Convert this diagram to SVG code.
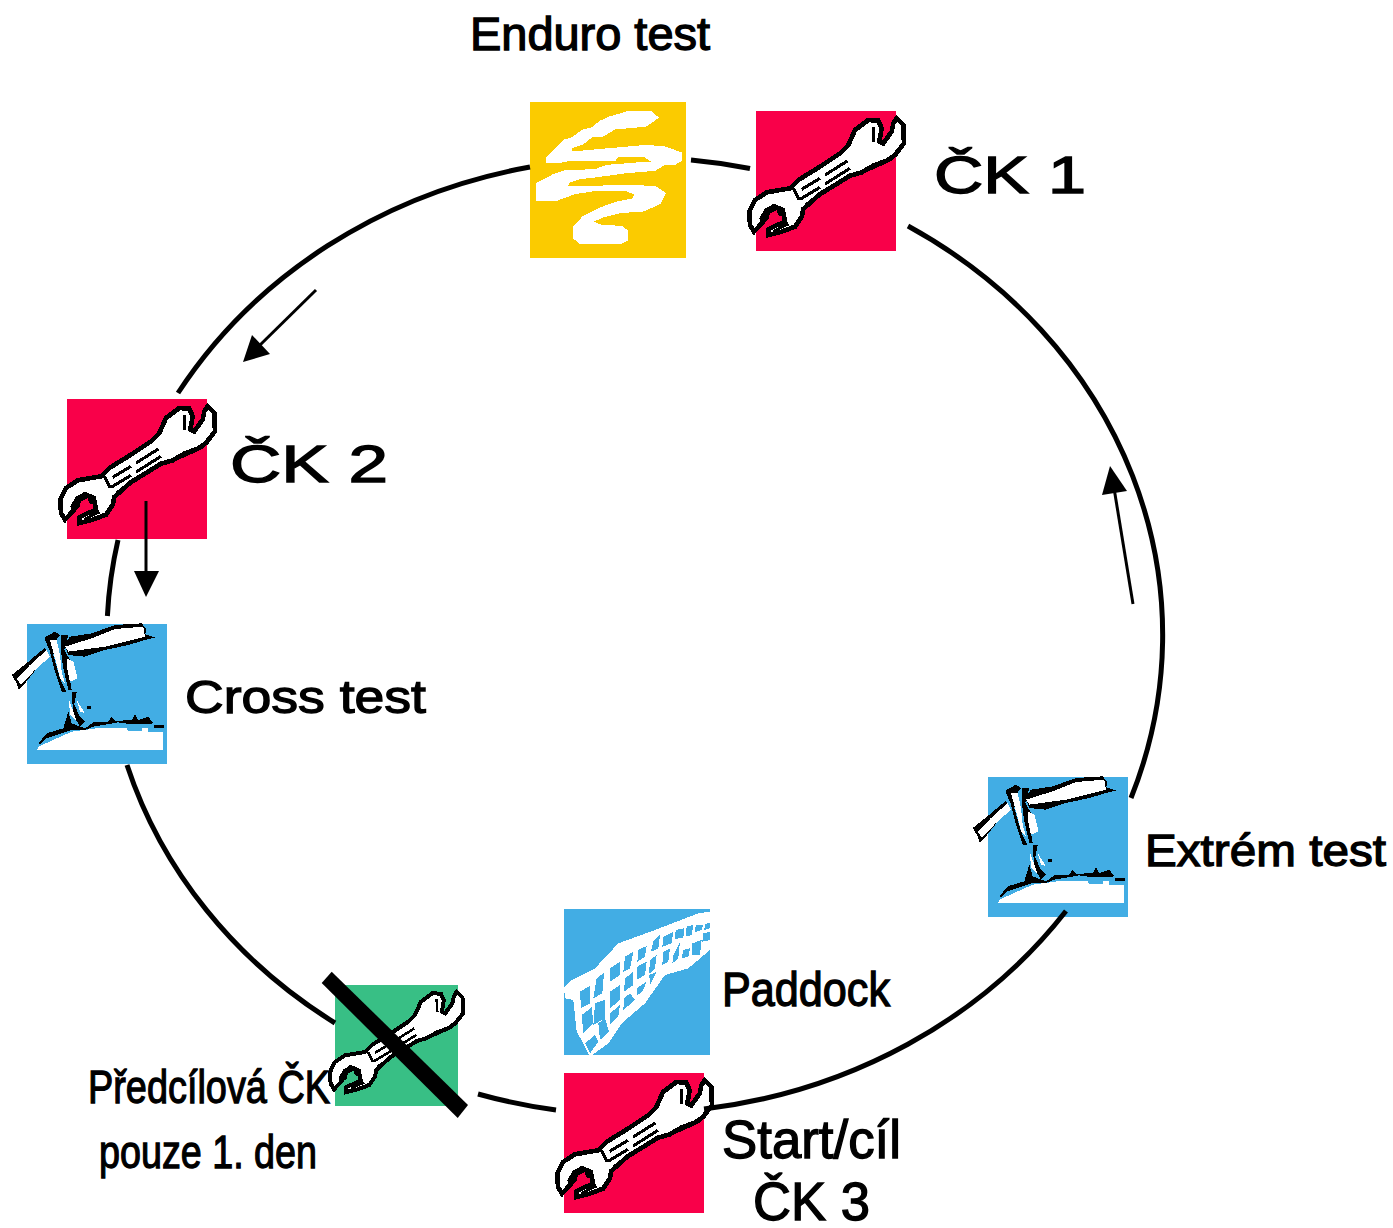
<svg xmlns="http://www.w3.org/2000/svg" width="1393" height="1228" viewBox="0 0 1393 1228">
<style>
text{font-family:"Liberation Sans",Arial,sans-serif;fill:#000;stroke:#000;stroke-width:1.3}
.arc{fill:none;stroke:#000;stroke-width:5}
.arw{fill:none;stroke:#000;stroke-width:3}
.ah{fill:#000}
.px{shape-rendering:crispEdges}
</style>
<defs>
<g id="wrench" class="px">
<path d="M470 55L490 75L492 130L465 165L440 182L400 197L365 217L330 227L290 252L240 282L190 327L185 350L165 380L125 395L85 405L85 388L112 375L135 365L128 330L100 318L78 340L70 365L42 395L30 375L28 335L45 300L80 277L150 265L175 240L240 200L300 160L325 135L345 90L385 60L415 62L425 85L418 125L430 130L455 95L460 70Z" fill="#fff" stroke="#000" stroke-width="14" stroke-linejoin="miter"/>
<path d="M185 268L240 235M255 225L322 183M180 298L240 262M255 252L330 205M195 315L330 228L395 205L455 178M160 265L178 300M400 80L402 125" fill="none" stroke="#000" stroke-width="9"/>
<path d="M58 355L75 325L105 312L135 325L130 352L115 345L110 330L90 340L85 360L65 372ZM150 375L120 388L98 400L100 390L140 368Z" fill="#000"/>
</g>
<g id="sign" class="px">
<path d="M178 90L195 65L260 55L330 30L410 25L425 45L420 58L450 68L420 75L370 90L300 105L240 125L190 120Z" fill="#000"/>
<path d="M180 95L260 70L330 42L415 35L420 65L360 80L300 95L190 110Z" fill="#fff"/>
<path d="M20 180L70 140L120 98L135 125L100 155L60 205L42 225L35 205Z" fill="#000"/>
<path d="M35 192L75 150L125 105L135 125L90 165L48 208Z" fill="#fff"/>
<path d="M118 68L150 50L165 60L150 80L145 120L165 190L185 232L170 230L150 170L135 110Z" fill="#000"/>
<path d="M168 60L190 60L178 105L195 135L190 165L200 225L190 225L175 160L168 110Z" fill="#000"/>
<path d="M135 75L155 75L165 120L170 170L180 205L165 190L150 130Z" fill="#fff"/>
<path d="M185 130L205 140L218 190L195 200L188 170Z" fill="#fff"/>
<path d="M200 232L215 232L208 268L222 300L240 320L225 335L205 300Z" fill="#000"/>
<path d="M192 255L205 290L215 320L195 300ZM215 255L240 295L225 290Z" fill="#fff"/>
<path d="M100 385L125 355L175 340L190 290L200 325L240 340L265 322L310 320L320 305L330 318L380 315L390 298L400 315L430 305L445 325L430 328L380 328L340 322L265 335L240 345L200 345L125 370L105 390Z" fill="#000"/>
<rect x="247" y="273" width="12" height="9" fill="#000"/>
<rect x="448" y="330" width="28" height="9" fill="#000"/>
<path d="M96 405L100 395L200 350L275 340L365 340L370 348L410 348L412 340L428 340L430 350L475 350L475 405Z" fill="#fff"/>
</g>
</defs>

<g id="enduro">
<rect x="530" y="102" width="156" height="156" fill="#fbcb00"/>
<path class="px" transform="translate(520 95) scale(.33333)" fill="#fff" stroke="#fff" stroke-width="5" d="M320 52L395 52L413 68L378 92L335 97L285 100L250 122L215 125L190 145L155 158L155 172L370 153L430 155L485 175L485 195L465 207L435 207L405 225L320 232L225 245L180 250L145 262L142 275L225 275L300 272L405 275L435 295L420 325L370 347L300 352L250 365L215 380L245 392L305 395L322 408L322 435L300 445L180 445L163 430L163 395L190 365L240 340L290 322L340 312L345 297L315 285L230 285L165 295L110 315L52 315L52 265L100 240L135 228L225 225L260 212L350 205L405 205L375 185L295 182L285 195L150 195L110 203L80 203L80 190L135 135L155 130L190 105L215 100L240 80L265 68Z"/>
<text x="470" y="50" font-size="46" textLength="240" lengthAdjust="spacingAndGlyphs">Enduro test</text>
</g>

<g id="ck1">
<rect x="756" y="111" width="140" height="140" fill="#f90049"/>
<use href="#wrench" transform="translate(740 100) scale(.33333)"/>
<text x="934" y="193" font-size="51" textLength="152" lengthAdjust="spacingAndGlyphs">ČK 1</text>
</g>

<g id="ck2">
<rect x="67" y="399" width="140" height="140" fill="#f90049"/>
<use href="#wrench" transform="translate(51 388) scale(.33333)"/>
<text x="230" y="482" font-size="51" textLength="158" lengthAdjust="spacingAndGlyphs">ČK 2</text>
</g>

<g id="cross">
<rect x="27" y="624" width="140" height="140" fill="#42ade4"/>
<use href="#sign" transform="translate(5 615) scale(.33333)"/>
<text x="185" y="713" font-size="47" textLength="241" lengthAdjust="spacingAndGlyphs">Cross test</text>
</g>

<g id="extrem">
<rect x="988" y="777" width="140" height="140" fill="#42ade4"/>
<use href="#sign" transform="translate(966 768) scale(.33333)"/>
<text x="1145" y="866" font-size="45" textLength="241" lengthAdjust="spacingAndGlyphs">Extrém test</text>
</g>

<g id="paddock">
<rect x="564" y="909" width="146" height="146" fill="#42ade4"/>
<g class="px" transform="translate(555 900) scale(.33333)">
<path fill="#fff" d="M27 262L50 240L120 205L190 130L300 90L430 40L465 35L465 150L400 205L330 225L270 310L200 370L160 430L105 470L85 430L65 395L55 300L30 295Z"/>
<path fill="#42ade4" d="M75 275L105 257L105 310L78 325ZM125 235L147 218L142 280L115 295ZM165 205L195 185L195 225L165 245ZM210 170L235 155L225 205L205 215ZM250 150L275 138L270 170L247 185ZM295 125L315 105L310 145L288 155ZM325 110L355 95L350 130L322 140ZM362 90L388 85L385 112L360 118ZM395 80L415 75L410 105L392 110ZM422 75L445 75L440 90L420 97ZM450 72L465 68L465 85L448 90ZM165 275L195 255L195 300L165 325ZM210 235L235 215L235 255L207 275ZM247 200L275 185L270 225L245 240ZM285 180L305 165L300 205L282 222ZM325 155L345 145L340 185L322 195ZM355 165L375 125L370 175L352 190ZM385 150L405 145L400 170L380 175ZM412 130L440 120L435 165L410 165ZM445 100L465 95L465 120L442 125ZM120 310L150 300L150 355L115 375ZM80 345L110 322L115 370L85 400ZM130 370L150 355L162 395L135 420ZM90 430L120 405L130 425L105 460ZM165 340L195 315L190 350L165 375ZM207 295L225 280L240 300L205 330ZM245 265L275 245L262 275L245 287ZM283 225L305 215L285 255Z"/>
</g>
<text x="722" y="1006" font-size="48" textLength="168" lengthAdjust="spacingAndGlyphs">Paddock</text>
</g>

<g id="predcilova">
<rect x="335" y="985" width="123" height="121" fill="#38bf85"/>
<use href="#wrench" transform="translate(322 976) scale(.2867)"/>
<path d="M321.7 983L331.7 971.7L468 1105L457.7 1118Z" fill="#000"/>
<text x="88" y="1103" font-size="47" textLength="242" lengthAdjust="spacingAndGlyphs">Předcílová ČK</text>
<text x="99" y="1168" font-size="47" textLength="218" lengthAdjust="spacingAndGlyphs">pouze 1. den</text>
</g>

<g id="start">
<rect x="564" y="1073" width="140" height="140" fill="#f90049"/>
<use href="#wrench" transform="translate(548 1062) scale(.33333)"/>
<text x="722" y="1158" font-size="53" textLength="179" lengthAdjust="spacingAndGlyphs">Start/cíl</text>
<text x="753" y="1220" font-size="53" textLength="117" lengthAdjust="spacingAndGlyphs">ČK 3</text>
</g>

<g id="connectors">
<path class="arc" d="M691 160A528 478 0 0 1 750 168.5"/>
<path class="arc" d="M908 226A528 478 0 0 1 1131 798"/>
<path class="arc" d="M1066 911A528 478 0 0 1 704 1109"/>
<path class="arc" d="M556 1110A528 478 0 0 1 478 1094"/>
<path class="arc" d="M335 1023A528 478 0 0 1 127 765"/>
<path class="arc" d="M107.4 616A528 478 0 0 1 118 540"/>
<path class="arc" d="M178 393A528 478 0 0 1 530 167"/>
<path class="arw" d="M316 290L258 347"/>
<path class="ah" d="M243 362L252 335L270 354Z"/>
<path class="arw" d="M146 501V572"/>
<path class="ah" d="M146 597L134 571H159Z"/>
<path class="arw" d="M1133 604L1114 488"/>
<path class="ah" d="M1110 466L1127 491L1102 495Z"/>
</g>
</svg>
